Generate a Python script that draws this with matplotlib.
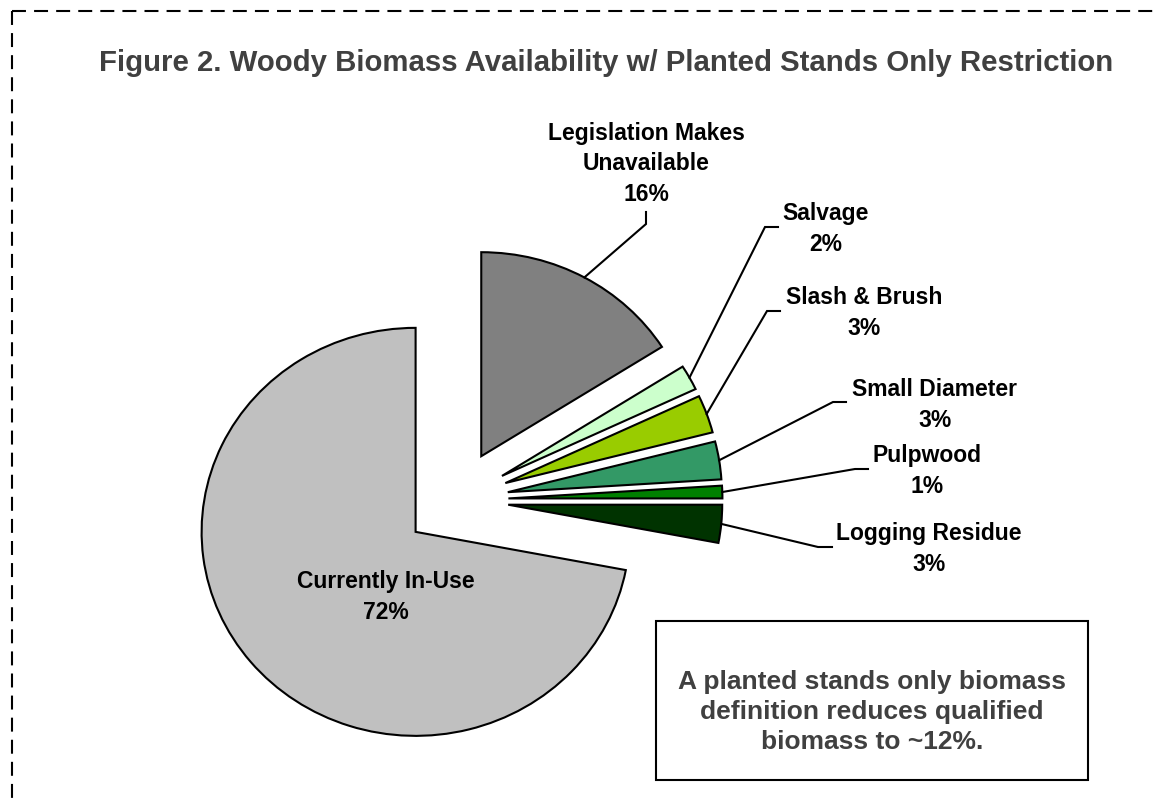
import matplotlib
matplotlib.use('Agg')
import matplotlib.pyplot as plt
from matplotlib.patches import Rectangle
from matplotlib.lines import Line2D
import numpy as np

# ---------------- data ----------------
categories = ["Legislation Makes\nUnavailable", "Salvage", "Slash & Brush",
              "Small Diameter", "Pulpwood", "Logging Residue", "Currently In-Use"]
values = [16, 2, 3, 3, 1, 3, 72]
colors = ["#808080", "#CCFFCC", "#99CC00", "#339966", "#008000", "#003300", "#C0C0C0"]
title = "Figure 2. Woody Biomass Availability w/ Planted Stands Only Restriction"
note = "A planted stands only biomass\ndefinition reduces qualified\nbiomass to ~12%."

plt.rcParams['font.family'] = ['Liberation Sans', 'DejaVu Sans']

W, H = 1157, 804
fig = plt.figure(figsize=(W / 100, H / 100), dpi=100)
ax = fig.add_axes([0, 0, 1, 1])

wedges, _ = ax.pie(values, colors=colors, startangle=90, counterclock=False,
                   explode=[0.245] * len(values),
                   wedgeprops=dict(edgecolor='black', linewidth=1.5))

# layout: pie centre / radii in pixels (slightly stretched horizontally)
cx, cy, rx, ry = 456, 501, 214, 204
ax.set_xlim(-cx / rx, (W - cx) / rx)
ax.set_ylim((cy - H) / ry, cy / ry)
ax.set_aspect('auto')
ax.axis('off')


def P(x, y):
    """pixel position (from top-left) -> data coords"""
    return ax.transData.inverted().transform((x, H - y))


# label layout: (text centre, leader elbow, leader end) in pixels
layout = [
    ((646, 164), (646, 225), (646, 213)),
    ((826, 229), (765, 228), (778, 228)),
    ((864, 313), (767, 312), (780, 312)),
    ((935, 405), (833, 403), (846, 403)),
    ((927, 471), (855, 470), (868, 470)),
    ((929, 549), (818, 548), (832, 548)),
    ((386, 597), None, None),
]

for w, cat, val, (tc, elbow, end) in zip(wedges, categories, values, layout):
    tx, ty = P(*tc)
    ax.text(tx, ty, f"{cat}\n{val}%", ha='center', va='center',
            fontsize=16.5, fontweight='bold', color='black', linespacing=1.42)
    if elbow is not None:
        mid = np.deg2rad((w.theta1 + w.theta2) / 2)
        ax0 = w.center[0] + w.r * np.cos(mid)
        ay0 = w.center[1] + w.r * np.sin(mid)
        ex, ey = P(*elbow)
        fx, fy = P(*end)
        ax.plot([ax0, ex, fx], [ay0, ey, fy], color='black', lw=1.5,
                solid_joinstyle='miter')

# title
fig.text(606 / W, 1 - 63 / H, title, ha='center', va='center',
         fontsize=21.2, fontweight='bold', color='#404040')

# note box
fig.add_artist(Rectangle((656 / W, 1 - 781 / H), (1088 - 656) / W, (781 - 622) / H,
                         transform=fig.transFigure, fill=False, ec='black', lw=1.5))
fig.text(872 / W, 1 - 712 / H, note, ha='center', va='center', fontsize=19,
         fontweight='bold', color='#404040', linespacing=1.32)

# dashed outer border (top and left visible)
dash = dict(color='black', lw=1.5, linestyle=(0, (6.7, 3.9)))
fig.add_artist(Line2D([12 / W, 1.0], [1 - 12 / H, 1 - 12 / H],
                      transform=fig.transFigure, **dash))
fig.add_artist(Line2D([12 / W, 12 / W], [1 - 12 / H, 0.0],
                      transform=fig.transFigure, **dash))

fig.savefig('out.png', dpi=100, facecolor='white')
